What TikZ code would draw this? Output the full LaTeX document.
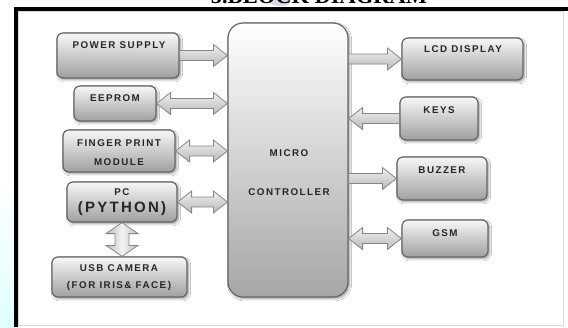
\documentclass[tikz,border=0pt]{standalone}
\usepackage{fontspec}
\setmainfont{Liberation Sans}
\newfontfamily\lblfont[LetterSpace=15]{Liberation Sans}
\newfontfamily\ttlfont{Liberation Serif}
\usetikzlibrary{calc,shadows.blur}
\tikzset{
  blk/.style={draw=gray!80!black, line width=1.2pt, rounded corners=6pt,
    top color=gray!6, bottom color=gray!75, inner sep=0pt,
    blur shadow={shadow xshift=1.5pt, shadow yshift=-1.8pt, shadow blur steps=6, shadow opacity=40}},
  mcbox/.style={blk, rounded corners=15pt, top color=white, bottom color=gray!70},
  lbl/.style={font=\lblfont\bfseries\fontsize{9.8}{11}\selectfont, inner sep=0pt, text=black!85},
  big/.style={font=\lblfont\bfseries\fontsize{15}{16}\selectfont, inner sep=0pt, text=black!85},
  fat/.style={draw=gray!95, line width=0.8pt, top color=gray!12, bottom color=gray!55},
  vfatsty/.style={draw=gray!95, line width=0.8pt, left color=gray!50, right color=gray!50, middle color=gray!10},
}
% right-pointing fat arrow: #1 tail, #2 head, #3 y reference
\newcommand\rfat[3]{\path[fat] let \p1=(#1), \p2=(#2), \p3=(#3) in
  (\x1,\y3+5pt) -- (\x2-14pt,\y3+5pt) -- (\x2-14pt,\y3+11pt) -- (\x2,\y3) --
  (\x2-14pt,\y3-11pt) -- (\x2-14pt,\y3-5pt) -- (\x1,\y3-5pt) -- cycle;}
% left-pointing fat arrow: head at #1 (left), tail at #2 (right)
\newcommand\lfat[3]{\path[fat] let \p1=(#1), \p2=(#2), \p3=(#3) in
  (\x2,\y3+5pt) -- (\x1+14pt,\y3+5pt) -- (\x1+14pt,\y3+11pt) -- (\x1,\y3) --
  (\x1+14pt,\y3-11pt) -- (\x1+14pt,\y3-5pt) -- (\x2,\y3-5pt) -- cycle;}
% double horizontal fat arrow
\newcommand\dfat[3]{\path[fat] let \p1=(#1), \p2=(#2), \p3=(#3) in
  (\x1,\y3) -- (\x1+14pt,\y3+11pt) -- (\x1+14pt,\y3+5pt) -- (\x2-14pt,\y3+5pt) --
  (\x2-14pt,\y3+11pt) -- (\x2,\y3) -- (\x2-14pt,\y3-11pt) -- (\x2-14pt,\y3-5pt) --
  (\x1+14pt,\y3-5pt) -- (\x1+14pt,\y3-11pt) -- cycle;}
% double vertical fat arrow: #1 top, #2 bottom
\newcommand\vfat[2]{\path[vfatsty] let \p1=(#1), \p2=(#2) in
  (\x1,\y1) -- (\x1+16pt,\y1-11pt) -- (\x1+7pt,\y1-11pt) -- (\x1+7pt,\y2+11pt) --
  (\x1+16pt,\y2+11pt) -- (\x1,\y2) -- (\x1-16pt,\y2+11pt) -- (\x1-7pt,\y2+11pt) --
  (\x1-7pt,\y1-11pt) -- (\x1-16pt,\y1-11pt) -- cycle;}
\begin{document}
\begin{tikzpicture}[x=1pt,y=-1pt]
\useasboundingbox (0,0) rectangle (568,327);
\fill[white] (0,0) rectangle (568,327);
\shade[top color=white, bottom color=cyan!12] (0,180) rectangle (14,327);
\fill[blue!15!gray!25] (280,1) ellipse (11pt and 5pt);
\node[font=\ttlfont\bfseries\fontsize{22.5}{24}\selectfont, anchor=base, inner sep=0pt] (title) at (319,3) {5.BLOCK DIAGRAM};
\draw[gray!30, line width=0.8pt] (18,11) rectangle (563,325);
\draw[black, line width=4pt] (16,327) -- (16,9) -- (568,9);

% boxes
\node[mcbox, minimum width=120pt, minimum height=274pt] (mc) at (288,160) {};
\node[blk, minimum width=122pt, minimum height=45pt] (ps) at (118,55.5) {};
\node[blk, minimum width=82pt, minimum height=35pt] (eep) at (115,103.5) {};
\node[blk, minimum width=112pt, minimum height=42pt] (fp) at (119,151) {};
\node[blk, minimum width=110pt, minimum height=40pt] (pc) at (122,202) {};
\node[blk, minimum width=135pt, minimum height=40pt] (usb) at (119.5,277) {};
\node[blk, minimum width=121pt, minimum height=42pt] (lcd) at (462.5,59) {};
\node[blk, minimum width=78pt, minimum height=43pt] (keys) at (439,118.5) {};
\node[blk, minimum width=90pt, minimum height=43pt] (buz) at (442,178.5) {};
\node[blk, minimum width=86pt, minimum height=37pt] (gsm) at (445,238.5) {};

% labels
\node[lbl] (mcT1) at (289,153) {MICRO};
\node[lbl] (mcT2) at (289,192) {CONTROLLER};
\node[lbl] (psT) at (119,45) {POWER SUPPLY};
\node[lbl] (eepT) at (115,98) {EEPROM};
\node[lbl] (fpT1) at (119,143) {FINGER PRINT};
\node[lbl] (fpT2) at (119,162) {MODULE};
\node[lbl] (pcT1) at (122,192) {PC};
\node[big] (pcT2) at (122,209) {(PYTHON)};
\node[lbl] (usbT1) at (119,268) {USB CAMERA};
\node[lbl] (usbT2) at (119,286) {(FOR IRIS\& FACE)};
\node[lbl] (lcdT) at (463,49) {LCD DISPLAY};
\node[lbl] (keysT) at (439,110) {KEYS};
\node[lbl] (buzT) at (442,170) {BUZZER};
\node[lbl] (gsmT) at (445,233) {GSM};

% arrows
\rfat{ps.east}{mc.west}{ps.east}
\dfat{eep.east}{mc.west}{eep.east}
\dfat{fp.east}{mc.west}{fp.east}
\dfat{pc.east}{mc.west}{pc.east}
\rfat{mc.east}{lcd.west}{lcd.west}
\lfat{mc.east}{keys.west}{keys.west}
\rfat{mc.east}{buz.west}{buz.west}
\dfat{mc.east}{gsm.west}{gsm.west}
\vfat{pc.south}{usb.north}
\end{tikzpicture}
\end{document}
